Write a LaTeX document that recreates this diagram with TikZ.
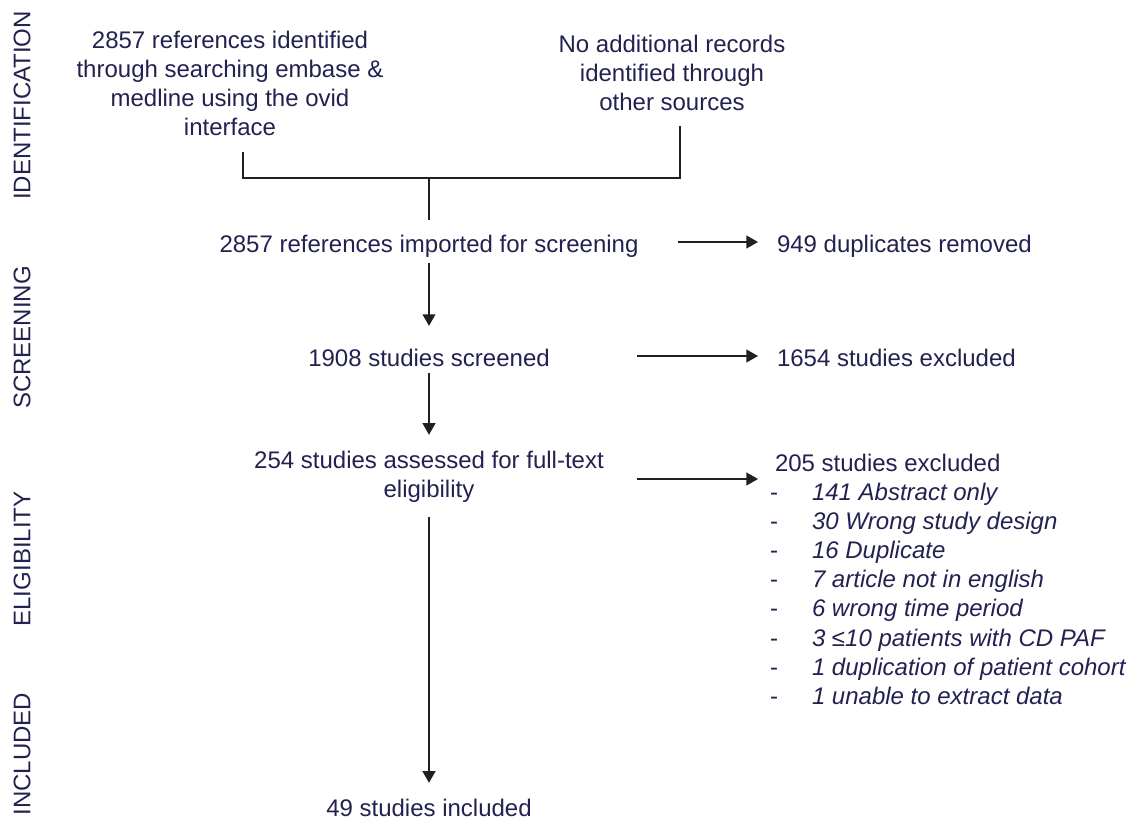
\documentclass[tikz,border=0pt]{standalone}
\usepackage{fontspec}
\setmainfont{Liberation Sans}
\usetikzlibrary{arrows.meta}
\definecolor{inkblue}{RGB}{34,33,80}
\definecolor{linegray}{RGB}{35,31,32}

\begin{document}
\begin{tikzpicture}[x=0.5pt, y=-0.5pt, >={Triangle[length=5.8pt,width=6.4pt]},
  txt/.style={inner sep=0pt, outer sep=0pt, text=inkblue, font=\fontsize{12}{14.6}\selectfont},
  stage/.style={txt, rotate=90},
  line/.style={draw=linegray, line width=0.75pt},
  arr/.style={line, ->}]

  \useasboundingbox (0,0) rectangle (1132,820);

  % phase labels
  \node[stage] (sid) at (22,105.5) {IDENTIFICATION};
  \node[stage] (ssc) at (22,337.5) {SCREENING};
  \node[stage] (sel) at (22,559) {ELIGIBILITY};
  \node[stage] (sin) at (22,754) {INCLUDED};

  % flow (base = last line)
  \node[txt, align=center, anchor=base] (src1) at (230,135.6) {2857 references identified\\through searching embase \&\\medline using the ovid\\interface};
  \node[txt, align=center, anchor=base] (src2) at (672,110.9) {No additional records\\identified through\\other sources};
  \node[txt, anchor=base] (imp) at (429,252) {2857 references imported for screening};
  \node[txt, anchor=base] (scr) at (429,366.5) {1908 studies screened};
  \node[txt, align=center, anchor=base] (elig) at (429,497.2) {254 studies assessed for full-text\\eligibility};
  \node[txt, anchor=base] (incl) at (429,816) {49 studies included};

  % exclusions
  \node[txt, anchor=base west] (dup) at (777,252) {949 duplicates removed};
  \node[txt, anchor=base west] (exa) at (777,366) {1654 studies excluded};
  \node[txt, anchor=base west] (exb) at (775,471) {205 studies excluded};
  \node[txt, align=left, anchor=base west] (why) at (770,704.4) {%
    \makebox[21pt][l]{-}\textit{141 Abstract only}\\
    \makebox[21pt][l]{-}\textit{30 Wrong study design}\\
    \makebox[21pt][l]{-}\textit{16 Duplicate}\\
    \makebox[21pt][l]{-}\textit{7 article not in english}\\
    \makebox[21pt][l]{-}\textit{6 wrong time period}\\
    \makebox[21pt][l]{-}\textit{3 ≤10 patients with CD PAF}\\
    \makebox[21pt][l]{-}\textit{1 duplication of patient cohort}\\
    \makebox[21pt][l]{-}\textit{1 unable to extract data}};

  \coordinate (join) at (429,178);
  \coordinate (dupin) at ([xshift=-9.5pt, yshift=5pt]dup.base west);
  \coordinate (exain) at ([xshift=-9.5pt, yshift=5pt]exa.base west);
  \coordinate (exbin) at ([xshift=-8.5pt, yshift=-4pt]exb.base west);

  \draw[line, shorten <=8.2pt, shorten >=7.5pt] ([xshift=6.5pt]src1.south) |- (join) -| ([xshift=4pt]src2.south);
  \draw[line, shorten >=7.4pt] (join) -- (imp.north);

  \path (imp.south)  edge[arr, shorten <=3pt, shorten >=11.6pt] (scr.north)
        (scr.south)  edge[arr, shorten <=3.2pt, shorten >=7.9pt] (elig.north)
        (elig.south) edge[arr, shorten <=7.5pt, shorten >=7.9pt] (incl.north);

  \path (imp.east |- dupin)  edge[arr, shorten <=20pt]   (dupin)
        (scr.east |- exain)  edge[arr, shorten <=43.5pt] (exain)
        (elig.east |- exbin) edge[arr, shorten <=16.5pt] (exbin);

\end{tikzpicture}
\end{document}
